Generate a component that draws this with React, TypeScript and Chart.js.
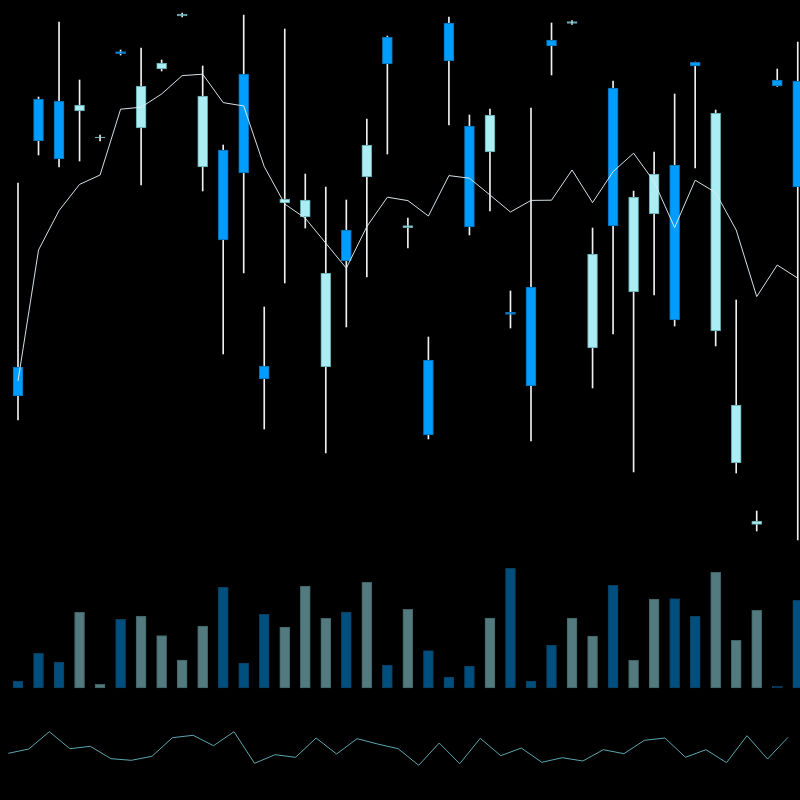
import { useEffect, useRef } from "react";
import { Chart, registerables } from "chart.js";
Chart.register(...registerables);

// Price series (per session)
const open = [101.65, 115.05, 114.95, 114.45, 113.1, 117.42, 113.6, 116.55, 119.2, 111.65, 112.5, 116.3, 101.7, 109.85, 109.15, 101.65, 108.5, 111.15, 118.15, 108.62, 102.0, 118.85, 113.7, 112.4, 104.38, 105.65, 118.0, 118.83, 102.6, 115.6, 105.4, 109.3, 111.75, 116.88, 103.45, 96.85, 93.78, 116.0, 115.95];
const close = [100.2, 112.95, 112.05, 114.75, 113.15, 117.32, 115.7, 116.85, 119.3, 115.2, 108.0, 111.35, 101.05, 110.05, 110.0, 106.35, 106.95, 112.75, 116.8, 108.72, 98.25, 116.95, 108.65, 114.25, 104.28, 100.7, 117.7, 118.92, 107.3, 108.7, 110.15, 111.3, 104.0, 116.7, 114.35, 99.75, 93.95, 115.7, 110.65];
const high = [110.85, 115.15, 118.9, 116.0, 113.25, 117.5, 117.6, 117.0, 119.35, 116.7, 112.75, 119.25, 104.65, 118.55, 111.3, 110.65, 110.0, 114.05, 118.2, 109.1, 103.15, 119.15, 114.25, 114.55, 105.45, 114.6, 118.85, 118.97, 108.6, 115.95, 110.45, 112.4, 115.3, 116.9, 114.5, 105.0, 94.45, 116.55, 117.9];
const low = [99.0, 112.25, 111.65, 111.95, 112.95, 117.25, 110.75, 116.45, 119.15, 110.45, 102.3, 106.35, 98.55, 105.85, 108.6, 97.35, 103.65, 106.15, 112.3, 107.6, 98.05, 113.75, 108.25, 109.45, 103.6, 97.95, 116.25, 118.78, 100.6, 103.3, 96.4, 105.25, 103.7, 111.6, 102.7, 96.35, 93.45, 115.68, 93.0];

// Moving average line
const movingAvg = [100.95, 107.5, 109.47, 110.78, 111.25, 114.54, 114.64, 115.3, 116.22, 116.29, 114.87, 114.7, 111.67, 109.8, 109.09, 107.84, 106.59, 108.67, 110.14, 109.97, 109.2, 111.22, 111.09, 110.25, 109.4, 109.98, 109.99, 111.5, 109.87, 111.42, 112.34, 110.92, 108.62, 110.99, 110.37, 108.5, 105.17, 106.75, 106.09];

// Volume
const volume = [700, 3470, 2600, 7570, 370, 6870, 7200, 5230, 2800, 6200, 10070, 2500, 7370, 6100, 10200, 6970, 7600, 10570, 2300, 7870, 3730, 1100, 2200, 7000, 11970, 700, 4300, 7000, 5200, 10270, 2770, 8900, 8930, 7170, 11570, 4770, 7770, 200, 8770];

// Lower indicator
const indicator = [33.4, 42, 76.6, 42.6, 47.4, 22.6, 19.4, 27.4, 64.6, 69.4, 48.6, 76.6, 13.4, 30.6, 25.4, 64, 32, 62.6, 52, 42.6, 9.4, 54, 12.6, 63.4, 28.6, 44, 15.4, 24.6, 18, 40.6, 32.6, 59.4, 64, 25.4, 40.6, 14.6, 68.6, 22, 65.4];

const UP_FILL = "#aaeef4";
const UP_EDGE = "#5f9fa6";
const DOWN_FILL = "#009dff";
const DOWN_EDGE = "#0a6cad";
const VOL_UP = "#537a7e";
const VOL_UP_EDGE = "#3f6265";
const VOL_DOWN = "#004f7e";
const VOL_DOWN_EDGE = "#0b3d5e";

export default function App() {
  const ref = useRef<HTMLCanvasElement>(null);
  useEffect(() => {
    const idx = open.map((_, i) => i);
    const up = idx.map((i) => close[i] >= open[i]);
    const step = 20.52;
    const chart = new Chart(ref.current!, {
      type: "bar",
      data: {
        datasets: [
          {
            type: "line",
            data: idx.map((i) => ({ x: i, y: movingAvg[i] })),
            xAxisID: "x",
            yAxisID: "y",
            borderColor: "rgba(222,236,240,0.95)",
            borderWidth: 1,
            pointRadius: 0,
            tension: 0,
            order: 0,
          } as any,
          {
            type: "line",
            data: idx.map((i) => ({ x: i, y: indicator[i] })),
            xAxisID: "xInd",
            yAxisID: "yInd",
            borderColor: "#5aa6b0",
            borderWidth: 1,
            pointRadius: 0,
            tension: 0,
            order: 0,
          } as any,
          {
            type: "bar",
            data: idx.map((i) => ({ x: i, y: [open[i], close[i]] })),
            xAxisID: "x",
            yAxisID: "y",
            backgroundColor: idx.map((i) => (up[i] ? UP_FILL : DOWN_FILL)),
            borderColor: idx.map((i) => (up[i] ? UP_EDGE : DOWN_EDGE)),
            borderWidth: 1,
            borderSkipped: false,
            barThickness: 10,
            grouped: false,
            order: 1,
          } as any,
          {
            type: "bar",
            data: idx.map((i) => ({ x: i, y: [low[i], high[i]] })),
            xAxisID: "x",
            yAxisID: "y",
            backgroundColor: "#f0f0f0",
            borderWidth: 0,
            barThickness: 1,
            grouped: false,
            order: 2,
          } as any,
          {
            type: "bar",
            data: idx.map((i) => ({ x: i, y: volume[i] })),
            xAxisID: "x",
            yAxisID: "yVol",
            backgroundColor: idx.map((i) => (up[i] ? VOL_UP : VOL_DOWN)),
            borderColor: idx.map((i) => (up[i] ? VOL_UP_EDGE : VOL_DOWN_EDGE)),
            borderWidth: 1,
            borderSkipped: false,
            barThickness: 10,
            grouped: false,
            order: 3,
          } as any,
        ],
      },
      options: {
        animation: false,
        responsive: false,
        maintainAspectRatio: false,
        layout: { padding: 0 },
        plugins: { legend: { display: false }, tooltip: { enabled: false } },
        scales: {
          x: { type: "linear", display: false, offset: false, min: -18 / step, max: 782 / step },
          xInd: { type: "linear", display: false, offset: false, min: -8.3 / step, max: 791.7 / step },
          y: { type: "linear", display: false, min: 80, max: 120 },
          yVol: { type: "linear", display: false, min: -11200, max: 68800 },
          yInd: { type: "linear", display: false, min: -60, max: 1540 },
        },
      } as any,
    });
    return () => chart.destroy();
  }, []);
  return (
    <div style={{ position: "fixed", left: 0, top: 0, width: 800, height: 800, background: "#000" }}>
      <canvas ref={ref} width={800} height={800} style={{ display: "block" }} />
    </div>
  );
}
